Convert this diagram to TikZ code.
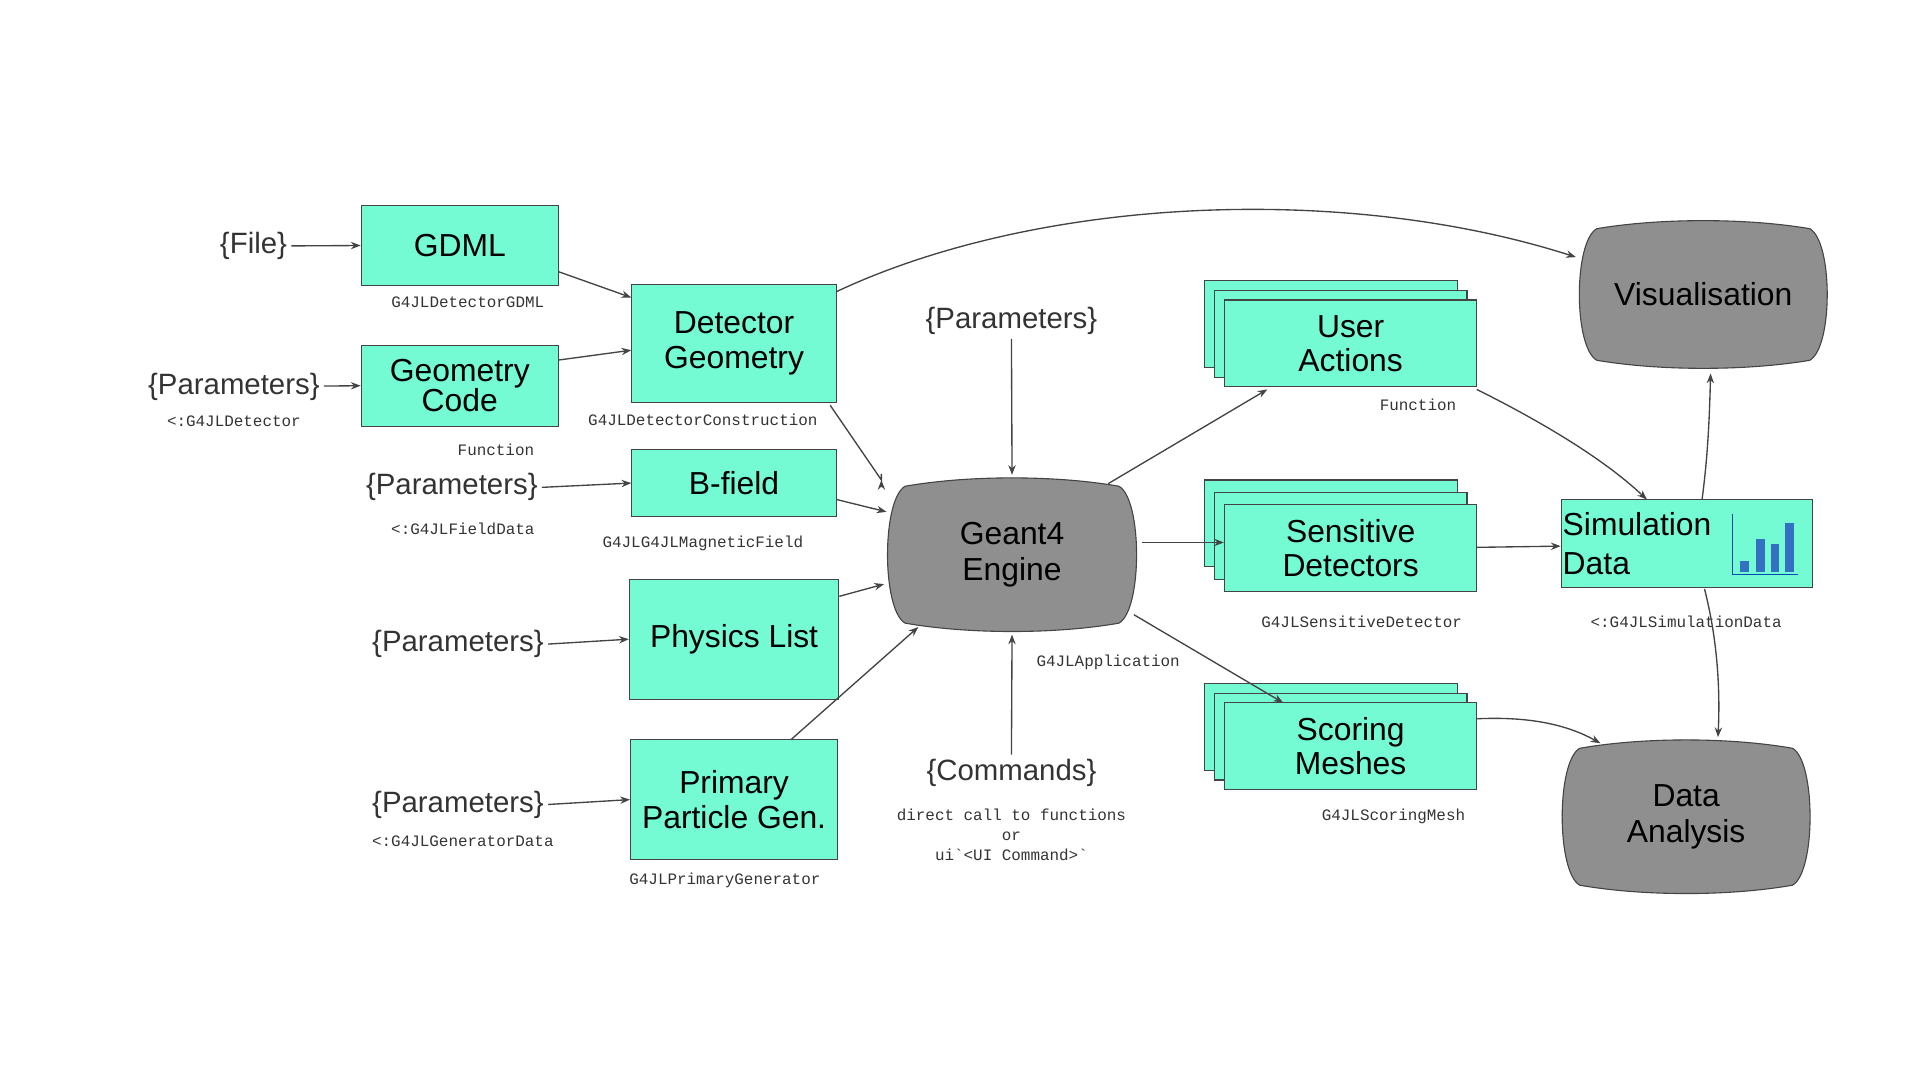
\documentclass[tikz,border=0pt]{standalone}
\usepackage{fontspec}
\setmainfont{Liberation Sans}
\setmonofont{Liberation Mono}
\usetikzlibrary{arrows.meta}
\definecolor{aq}{HTML}{74FBD4}
\definecolor{gr}{HTML}{8F8F8F}
\definecolor{ln}{HTML}{444444}
\definecolor{tx}{HTML}{333333}
\begin{document}
\begin{tikzpicture}[x=1pt,y=-1pt,
  box/.style={draw=ln,fill=aq,line width=0.9pt,inner sep=0pt,align=center,font=\fontsize{26}{28}\selectfont},
  lbl/.style={font=\fontsize{24}{26}\selectfont,text=tx},
  code/.style={font=\ttfamily\fontsize{13}{16}\selectfont,text=tx,align=center},
  arr/.style={draw=ln,line width=1.1pt,-{Stealth[length=8pt,width=6pt]}},
  big/.style={font=\fontsize{26}{30}\selectfont,align=center}]
\useasboundingbox (0,0) rectangle (1568,882);
\newcommand\mybox[6]{\node[box,minimum width=#4-#2,minimum height=#5-#3] (#1) at ({(#2+#4)/2},{(#3+#5)/2}) {#6};}
\newcommand\myrect[4]{\draw[ln,fill=aq,line width=0.9pt] (#1,#2) rectangle (#3,#4);}
\newcommand\tape[6]{%
 \pgfmathsetmacro\aa{0.03*(#4-#2)}\pgfmathsetmacro\bb{0.07*(#5-#3)}%
 \draw[ln,fill=gr,line width=0.9pt] ({#2+3*\aa},{#3+\bb}) .. controls ({#2+(#4-#2)/3},#3) and ({#4-(#4-#2)/3},#3) .. ({#4-3*\aa},{#3+\bb})
  .. controls (#4,{#3+2.2*\bb}) and (#4,{#5-2.2*\bb}) .. ({#4-3*\aa},{#5-\bb})
  .. controls ({#4-(#4-#2)/3},#5) and ({#2+(#4-#2)/3},#5) .. ({#2+3*\aa},{#5-\bb})
  .. controls (#2,{#5-2.2*\bb}) and (#2,{#3+2.2*\bb}) .. cycle;
 \node[big,minimum width=#4-#2,minimum height=#5-#3,inner sep=0pt] (#1) at ({(#2+#4)/2},{(#3+#5)/2}) {#6};}

% left boxes
\mybox{gdml}{295}{168}{456}{233}{GDML}
\mybox{gc}{295}{282}{456}{348}{Geometry\\[-4pt]Code}
\mybox{dg}{516}{232}{683}{329}{Detector\\Geometry}
\mybox{bf}{516}{367}{683}{422}{B-field}
\mybox{pl}{514}{473}{685}{571}{Physics List}
\mybox{pp}{515}{604}{684}{702}{Primary\\Particle Gen.}

\node[lbl] (file) at (207,201) {\{File\}};
\node[lbl] (p1) at (191,316) {\{Parameters\}};
\node[lbl] (p2) at (369,398) {\{Parameters\}};
\node[lbl] (p3) at (374,526) {\{Parameters\}};
\node[lbl] (p4) at (374,657) {\{Parameters\}};
\node[lbl] (pt) at (826,262) {\{Parameters\}};
\node[lbl] (cmd) at (826,631) {\{Commands\}};

\node[code] (c1) at (382,247) {G4JLDetectorGDML};
\node[code] (c2) at (191,344) {<:G4JLDetector};
\node[code] (c3) at (405,367) {Function};
\node[code] (c4) at (574,343) {G4JLDetectorConstruction};
\node[code] (c5) at (378,432) {<:G4JLFieldData};
\node[code] (c6) at (574,444) {G4JLG4JLMagneticField};
\node[code] (c7) at (378,687) {<:G4JLGeneratorData};
\node[code] (c8) at (592,719) {G4JLPrimaryGenerator};
\node[code] (c9) at (905,541) {G4JLApplication};
\node[code,font=\ttfamily\fontsize{13}{16.5}\selectfont] (c10) at (826,682) {direct call to functions\\or\\ui`<UI Command>`};
\node[code] (c11) at (1158,331) {Function};
\node[code] (c12) at (1112,508) {G4JLSensitiveDetector};
\node[code] (c13) at (1138,667) {G4JLScoringMesh};
\node[code] (c14) at (1377,508) {<:G4JLSimulationData};

% engine & gray shapes
\tape{eng}{720}{388}{933}{518}{Geant4\\Engine}
\tape{vis}{1285}{178}{1497}{303}{Visualisation}
\tape{da}{1271}{602}{1483}{732}{Data\\Analysis}

% stacks
\myrect{984}{229}{1190}{300}\myrect{992}{237}{1198}{308}
\mybox{ua}{1000}{245}{1206}{316}{User\\Actions}
\myrect{984}{392}{1190}{463}\myrect{992}{402}{1198}{473}
\mybox{sd}{1000}{412}{1206}{483}{Sensitive\\Detectors}
\myrect{984}{558}{1190}{629}\myrect{992}{566}{1198}{637}
\mybox{sm}{1000}{574}{1206}{645}{Scoring\\Meshes}

% simulation data
\mybox{sim}{1275}{408}{1480}{480}{}
\node[anchor=west,align=left,font=\fontsize{26}{32}\selectfont,inner sep=1pt] (simt) at (1275,444) {Simulation\\Data};
\begin{scope}[draw=teal!70!blue,fill=teal!60!blue!80]
\draw[line width=1.2pt,color=teal!60!blue] (1415,420) -- (1415,469) -- (1468,469);
\fill (1421,458) rectangle (1428,467);
\fill (1434,440) rectangle (1441,467);
\fill (1446,444) rectangle (1453,467);
\fill (1458,427) rectangle (1465,467);
\end{scope}

% arrows
\draw[arr] (file) -- (gdml.west);
\draw[arr] (p1) -- (gc.west);
\draw[arr] (p2.east) -- (bf.west);
\draw[arr] (p3.east) -- (pl.west);
\draw[arr] (p4.east) -- (pp.west);
\draw[arr] (gdml.east |- 0,222) -- (dg.west |- 0,243);
\draw[arr] (gc.east |- 0,294) -- (dg.west |- 0,286);
\draw[arr] (678,331) -- (eng.north west |- 0,392) -| +(0,0) coordinate (e1);
\draw[arr] (bf.east |- 0,408) -- (724,418);
\draw[arr] (pl.east |- 0,487) -- (722,477);
\draw[arr] (646,604) -- (750,512);
\draw[arr] (pt.south) -- (eng.north);
\draw[arr] (cmd.north) -- (eng.south);
\draw[arr] (dg.east |- 0,238) .. controls (850,160) and (1100,150) .. (1287,210);
\draw[arr] (905,395) -- (1035,318);
\draw[arr] (933,443) -- (sd.west |- 0,443);
\draw[arr] (926,502) -- (1048,574);
\draw[arr] (1206,318) .. controls (1260,345) and (1310,375) .. (1345,408);
\draw[arr] (1206,447) -- (sim.west |- 0,446);
\draw[arr] (1206,587) .. controls (1250,585) and (1280,592) .. (1307,607);
\draw[arr] (1390,408) .. controls (1395,370) and (1396,340) .. (1397,305);
\draw[arr] (1392,481) .. controls (1402,520) and (1405,560) .. (1403,602);
\end{tikzpicture}
\end{document}
